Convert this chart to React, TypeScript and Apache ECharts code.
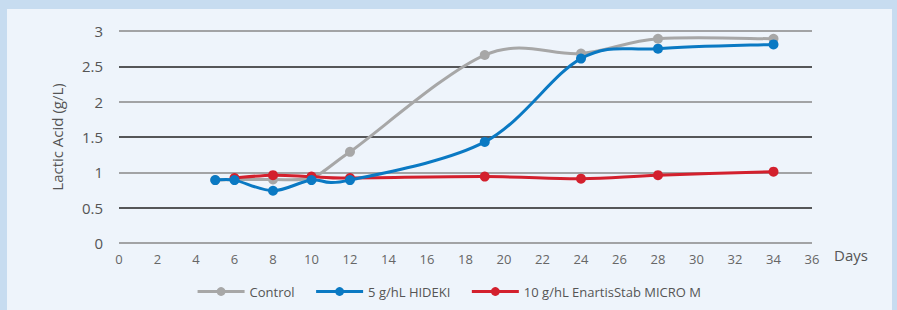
import React, { useEffect, useRef } from "react";
import * as echarts from "echarts";

const days = [5, 6, 8, 10, 12, 19, 24, 28, 34];
const control = [0.89, 0.9, 0.9, 0.93, 1.29, 2.66, 2.68, 2.89, 2.89];
const hideki = [0.89, 0.89, 0.74, 0.89, 0.89, 1.43, 2.61, 2.75, 2.81];
const enartis = [null, 0.92, 0.96, 0.94, 0.92, 0.94, 0.91, 0.96, 1.01];
const seriesNames = ["Control", "5 g/hL HIDEKI", "10 g/hL EnartisStab MICRO M"];
const colors = ["#a7a7a7", "#0a79c3", "#d3202d"];
const FONT = "'Open Sans', sans-serif";

function pointsOf(vals: (number | null)[]) {
  return days.map((d, j) => [d, vals[j]]).filter((p) => p[1] !== null) as number[][];
}

export default function App() {
  const ref = useRef<HTMLDivElement>(null);
  useEffect(() => {
    const chart = echarts.init(ref.current!, null, { renderer: "svg" });
    const all = [control, hideki, enartis];
    const zOrder = [3, 5, 4];
    const curveSeries = all.map((vals, i) => {
      const pts = pointsOf(vals);
      return {
        type: "custom",
        name: seriesNames[i] + " curve",
        z: zOrder[i],
        silent: true,
        data: pts,
        renderItem: (params: any, api: any) => {
          if (params.dataIndex !== 0) return null;
          const p = pts.map((q) => api.coord(q));
          let d = `M${p[0][0]},${p[0][1]}`;
          for (let k = 0; k < p.length - 1; k++) {
            const p0 = p[k - 1] || p[k];
            const p1 = p[k];
            const p2 = p[k + 1];
            const p3 = p[k + 2] || p[k + 1];
            const c1x = p1[0] + (p2[0] - p0[0]) / 6;
            const c1y = p1[1] + (p2[1] - p0[1]) / 6;
            const c2x = p2[0] - (p3[0] - p1[0]) / 6;
            const c2y = p2[1] - (p3[1] - p1[1]) / 6;
            d += ` C${c1x},${c1y} ${c2x},${c2y} ${p2[0]},${p2[1]}`;
          }
          return {
            type: "path",
            shape: { pathData: d },
            style: { stroke: colors[i], lineWidth: 3, fill: "none" },
          };
        },
      };
    });
    const markerSeries = all.map((vals, i) => ({
      name: seriesNames[i],
      type: "line",
      data: pointsOf(vals),
      symbol: "circle",
      symbolSize: 10,
      z: zOrder[i],
      lineStyle: { color: colors[i], width: 3, opacity: 0 },
      itemStyle: { color: colors[i] },
    }));
    chart.setOption({
      animation: false,
      backgroundColor: "#c7dcf0",
      textStyle: { fontFamily: FONT },
      graphic: [
        { type: "rect", z: -10, shape: { x: 7, y: 9, width: 885, height: 310 }, style: { fill: "#eef4fb" } },
      ],
      grid: { left: 119, right: 85, top: 31, bottom: 67 },
      legend: {
        top: 280,
        left: "center",
        itemWidth: 47,
        itemHeight: 11,
        itemGap: 20,
        textStyle: { fontFamily: FONT, fontSize: 13, color: "#555" },
        data: seriesNames.map((n, i) => ({
          name: n,
          lineStyle: { color: colors[i], width: 3, opacity: 1 },
          itemStyle: { color: colors[i] },
        })),
      },
      xAxis: {
        type: "value",
        min: 0,
        max: 36,
        interval: 2,
        name: "Days",
        nameLocation: "end",
        nameGap: 22,
        nameTextStyle: { fontFamily: FONT, fontSize: 15, color: "#555", verticalAlign: "top", padding: [4, 0, 0, 0] },
        axisLine: { show: false },
        axisTick: { show: false },
        splitLine: { show: false },
        axisLabel: { fontFamily: FONT, fontSize: 13, color: "#666", margin: 9 },
      },
      yAxis: {
        type: "value",
        min: 0,
        max: 3,
        interval: 0.5,
        name: "Lactic Acid (g/L)",
        nameLocation: "middle",
        nameGap: 55,
        nameRotate: 90,
        nameTextStyle: { fontFamily: FONT, fontSize: 15, color: "#555" },
        axisLine: { show: false },
        axisTick: { show: false },
        axisLabel: { fontFamily: FONT, fontSize: 15, color: "#555", margin: 16 },
        splitLine: { show: true, lineStyle: { color: ["#888888", "#222222"], width: 1.5 } },
      },
      series: [...markerSeries, ...curveSeries],
    });
    return () => chart.dispose();
  }, []);
  return <div ref={ref} style={{ position: "fixed", left: 0, top: 0, width: 897, height: 310 }} />;
}
